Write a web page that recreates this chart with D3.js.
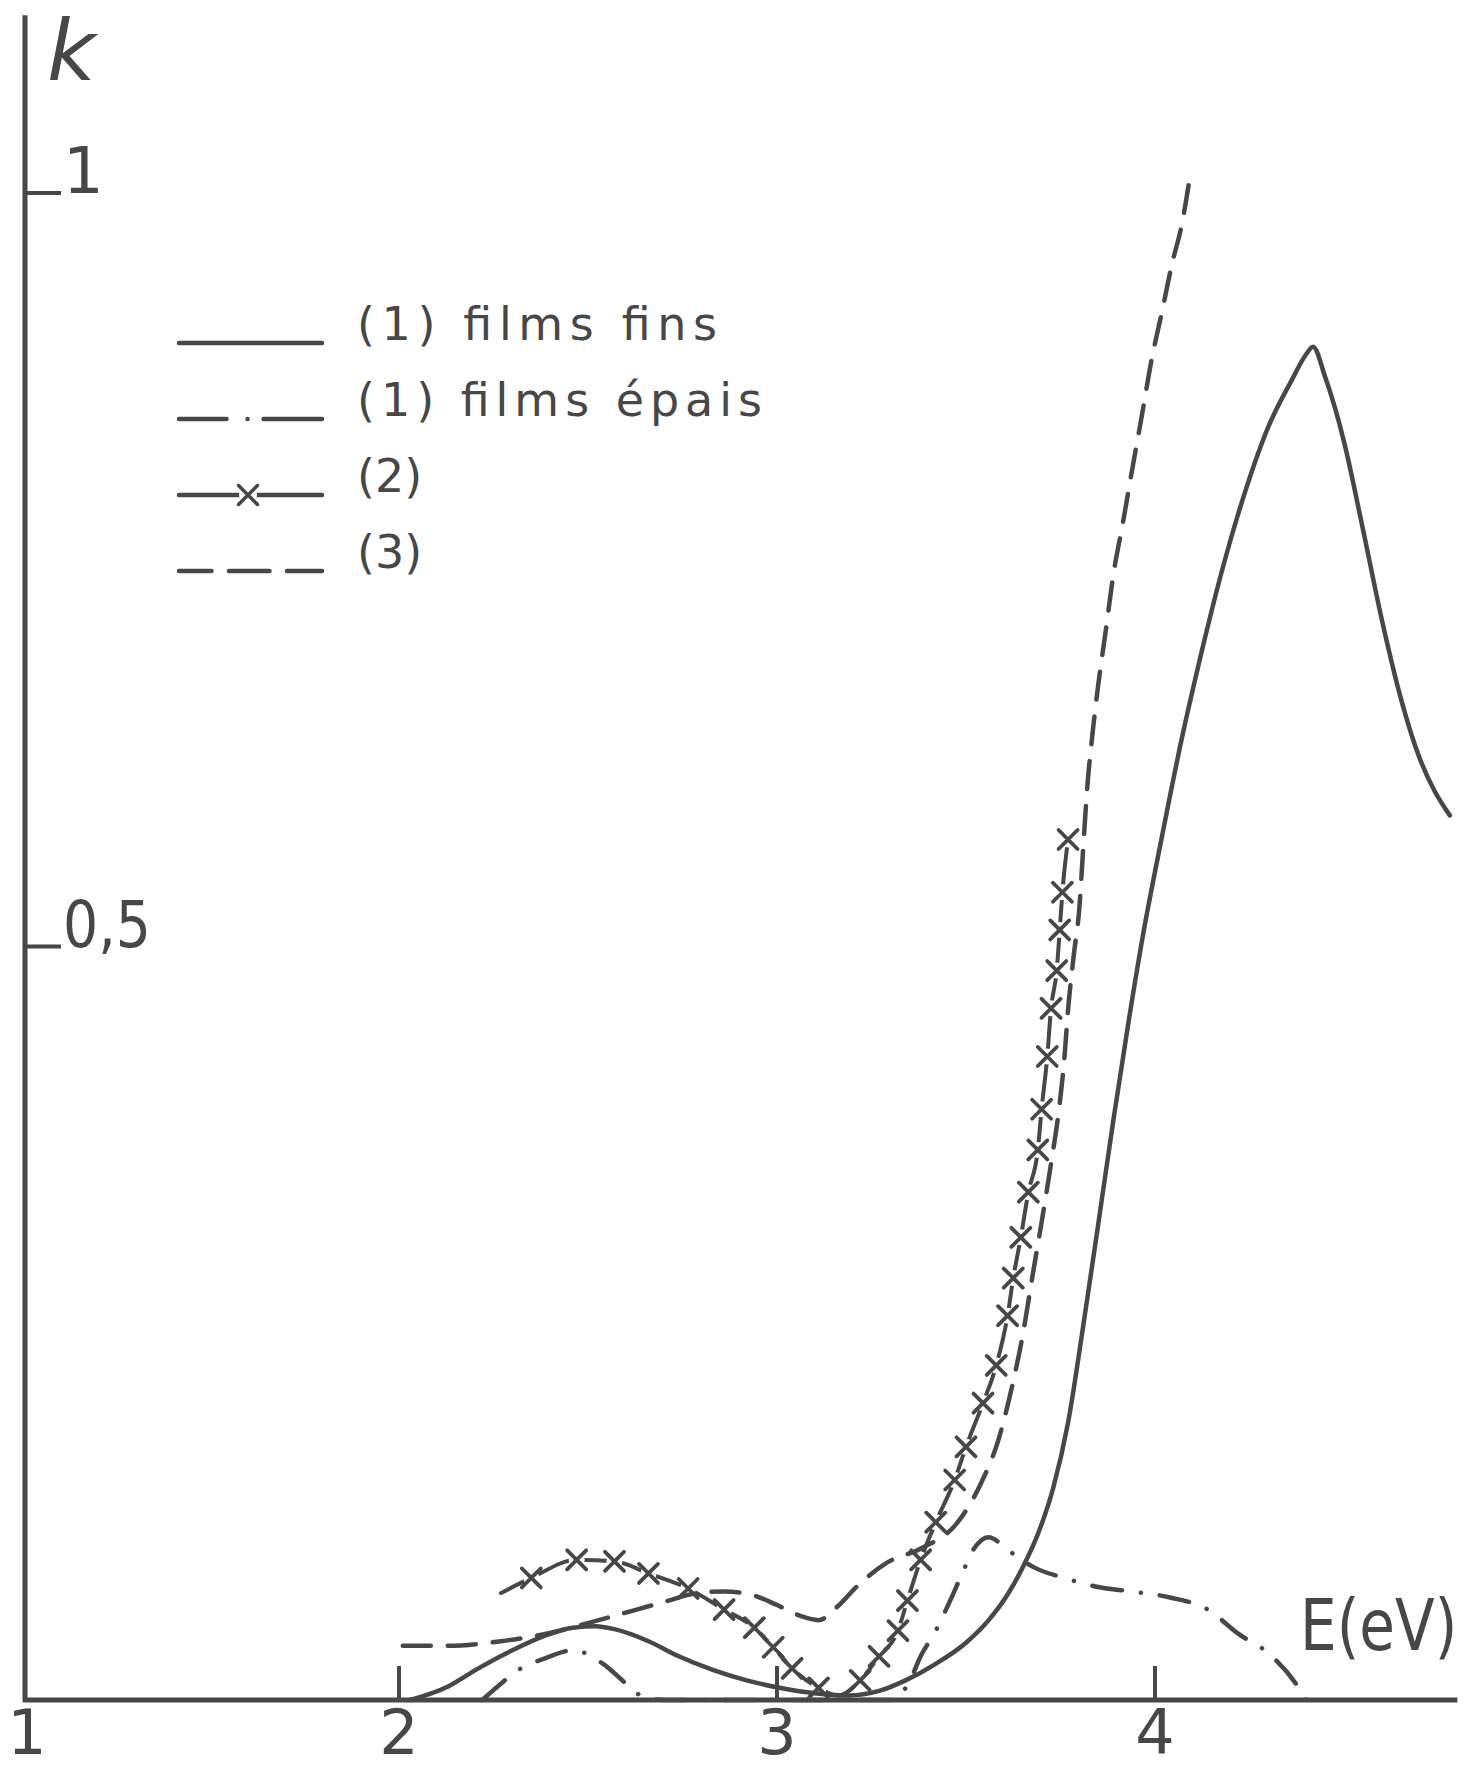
<!DOCTYPE html>
<html><head><meta charset="utf-8">
<script src="https://cdn.jsdelivr.net/npm/d3@7"></script>
<style>html,body{margin:0;padding:0;background:#fff;} svg{display:block;}</style>
</head><body>
<svg id="chart" width="1468" height="1770"></svg>
<script>
// ---- data (E in eV, k) ----
const xTicks = [1, 2, 3, 4];
const xTickLabels = ["1", "2", "3", "4"];
const yTicks = [0.5, 1];
const yTickLabels = ["0,5", "1"];
const xAxisLabel = "E(eV)";
const yAxisLabel = "k";
const legendLabels = ["(1) films fins", "(1) films épais", "(2)", "(3)"];

// (1) films fins — solid
const filmsFins = [
  [2.03,0],[2.13,0.009],[2.21,0.021],[2.30,0.033],[2.39,0.043],[2.46,0.048],[2.52,0.049],
  [2.57,0.047],[2.66,0.039],[2.74,0.029],[2.83,0.020],[2.92,0.013],[3.01,0.008],[3.10,0.0045],
  [3.19,0.003],[3.27,0.006],[3.34,0.013],[3.42,0.024],[3.50,0.038],[3.56,0.053],[3.61,0.070],
  [3.65,0.088],[3.69,0.110],[3.73,0.140],[3.77,0.184],[3.81,0.248],[3.85,0.316],[3.89,0.385],
  [3.93,0.450],[3.97,0.510],[4.02,0.575],[4.07,0.637],[4.12,0.692],[4.18,0.752],[4.24,0.803],
  [4.30,0.845],[4.36,0.875],[4.40,0.893],[4.418,0.898],[4.45,0.878],[4.50,0.835],[4.55,0.777],
  [4.60,0.717],[4.65,0.665],[4.70,0.625],[4.74,0.603],[4.78,0.587]
];
// (1) films épais — dash-dot
const filmsEpais = [
  [2.22,0],[2.275,0.012],[2.31,0.019],[2.39,0.028],[2.46,0.033],[2.54,0.024],[2.60,0.011],
  [2.64,0.003],[2.70,0],[3.30,0],[3.35,0.012],[3.38,0.029],[3.42,0.046],[3.46,0.067],
  [3.49,0.084],[3.52,0.100],[3.56,0.108],[3.60,0.102],[3.63,0.096],[3.68,0.088],[3.76,0.081],
  [3.85,0.075],[3.94,0.072],[4.04,0.068],[4.14,0.060],[4.22,0.044],[4.30,0.031],[4.375,0.010],
  [4.40,0]
];
// (2) — line with crosses; third value = 1 when a cross is drawn
const serie2 = [
  [2.27,0.071,0],[2.35,0.081,1],[2.47,0.093,1],[2.57,0.092,1],[2.66,0.084,1],[2.765,0.074,1],
  [2.86,0.060,1],[2.94,0.048,1],[2.99,0.035,1],[3.04,0.021,1],[3.11,0.008,1],[3.16,0.003,0],
  [3.22,0.013,1],[3.27,0.029,1],[3.32,0.046,1],[3.345,0.066,1],[3.38,0.093,1],[3.42,0.118,1],
  [3.47,0.146,1],[3.50,0.168,1],[3.545,0.197,1],[3.58,0.222,1],[3.61,0.255,1],[3.625,0.28,1],
  [3.645,0.307,1],[3.665,0.337,1],[3.69,0.365,1],[3.70,0.392,1],[3.715,0.427,1],[3.725,0.459,1],
  [3.74,0.484,1],[3.748,0.511,1],[3.755,0.536,1],[3.77,0.571,1]
];
// (3) — dashed
const serie3 = [
  [2.01,0.036],[2.13,0.036],[2.27,0.039],[2.39,0.044],[2.50,0.051],[2.60,0.058],[2.70,0.065],
  [2.79,0.071],[2.86,0.072],[2.93,0.070],[3.00,0.063],[3.06,0.056],[3.11,0.053],[3.16,0.062],
  [3.21,0.075],[3.29,0.091],[3.385,0.101],[3.475,0.117],[3.54,0.144],[3.585,0.172],[3.62,0.206],
  [3.65,0.242],[3.675,0.28],[3.70,0.317],[3.725,0.356],[3.745,0.39],[3.76,0.425],[3.77,0.458],
  [3.785,0.494],[3.80,0.526],[3.81,0.565],[3.82,0.603],[3.835,0.642],[3.85,0.674],[3.87,0.71],
  [3.89,0.747],[3.915,0.781],[3.94,0.817],[3.965,0.852],[3.99,0.888],[4.02,0.923],[4.045,0.953],
  [4.07,0.978],[4.095,1.015]
];

// ---- drawing ----
const W = 1468, H = 1770;
const ink = "#474747";
const font = "'DejaVu Sans', 'Liberation Sans', sans-serif";
const svg = d3.select("#chart");
svg.append("rect").attr("width", W).attr("height", H).attr("fill", "#fff");

const x = d3.scaleLinear().domain([1, 4.8]).range([21, 1457.4]);
const y = d3.scaleLinear().domain([0, 1]).range([1700, 193]);
const axisX = x(1) + 4;

const line = d3.line().x(d => x(d[0])).y(d => y(d[1])).curve(d3.curveMonotoneX);

// axes
svg.append("line").attr("x1", axisX).attr("x2", axisX).attr("y1", y(0) + 2).attr("y2", y(1.118))
  .attr("stroke", ink).attr("stroke-width", 5);
svg.append("line").attr("x1", axisX - 2).attr("x2", x(4.8)).attr("y1", y(0)).attr("y2", y(0))
  .attr("stroke", ink).attr("stroke-width", 5);

// x ticks
svg.append("g").selectAll("line").data(xTicks.filter(v => v > 1)).join("line")
  .attr("x1", d => x(d)).attr("x2", d => x(d)).attr("y1", y(0)).attr("y2", y(0) - 34)
  .attr("stroke", ink).attr("stroke-width", 4);
svg.append("g").selectAll("text").data(xTicks).join("text")
  .attr("x", d => x(d) + (d === 1 ? 6 : 0)).attr("y", y(0) + 54).attr("text-anchor", "middle")
  .attr("font-family", font).attr("font-size", 62).attr("fill", ink)
  .text((d, i) => xTickLabels[i]);

// y ticks
svg.append("g").selectAll("line").data(yTicks).join("line")
  .attr("x1", axisX).attr("x2", axisX + 36).attr("y1", d => y(d)).attr("y2", d => y(d))
  .attr("stroke", ink).attr("stroke-width", 4);
svg.append("g").selectAll("text").data(yTicks).join("text")
  .attr("x", axisX + 38).attr("y", d => y(d)).attr("font-family", font).attr("font-size", 64)
  .attr("fill", ink).each(function(d, i) {
    const t = d3.select(this).text(yTickLabels[i]);
    if (yTickLabels[i].length > 1) t.attr("textLength", 88).attr("lengthAdjust", "spacingAndGlyphs");
  });

// axis labels
svg.append("text").attr("x", axisX + 22).attr("y", 80).attr("font-family", font)
  .attr("font-style", "italic").attr("font-size", 84).attr("fill", ink).text(yAxisLabel);
svg.append("text").attr("transform", "translate(1300,1650) scale(1,1.24)")
  .attr("font-family", font).attr("font-size", 58).attr("fill", ink).text(xAxisLabel);

// series (2): line, white gaps, crosses
const crossPath = "M-9.5,-9.5L9.5,9.5M-9.5,9.5L9.5,-9.5";
svg.append("path").attr("d", line(serie2)).attr("fill", "none").attr("stroke", ink)
  .attr("stroke-width", 4).attr("stroke-linecap", "round");
const marks = serie2.filter(d => d[2] === 1);
svg.append("g").selectAll("circle").data(marks).join("circle")
  .attr("cx", d => x(d[0])).attr("cy", d => y(d[1])).attr("r", 8).attr("fill", "#fff");
svg.append("g").selectAll("path").data(marks).join("path")
  .attr("transform", d => `translate(${x(d[0])},${y(d[1])})`).attr("d", crossPath)
  .attr("stroke", ink).attr("stroke-width", 3.8).attr("stroke-linecap", "round").attr("fill", "none");

// series (3): dashed
svg.append("path").attr("d", line(serie3)).attr("fill", "none").attr("stroke", ink)
  .attr("stroke-width", 4.5).attr("stroke-linecap", "round").attr("stroke-dasharray", "28 17");

// series (1) films épais: dash-dot
svg.append("path").attr("d", line(filmsEpais)).attr("fill", "none").attr("stroke", ink)
  .attr("stroke-width", 4.5).attr("stroke-linecap", "round").attr("stroke-dasharray", "30 19 0.1 19");

// series (1) films fins: solid
svg.append("path").attr("d", line(filmsFins)).attr("fill", "none").attr("stroke", ink)
  .attr("stroke-width", 4.5).attr("stroke-linecap", "round").attr("stroke-linejoin", "round");

// legend
const legendStyles = [
  { dash: null, cross: false, len: 360 },
  { dash: "47.5 21 0.1 16 60", cross: false, len: 405 },
  { dash: null, cross: true, len: null },
  { dash: "32.5 17.5 40.5 17.5 40", cross: false, len: null }
];
const lg = svg.append("g");
legendLabels.forEach((lab, i) => {
  const by = 340 + i * 76;
  const st = legendStyles[i];
  const ly = by + 3;
  const l = lg.append("line").attr("x1", 179).attr("x2", 322).attr("y1", ly).attr("y2", ly)
    .attr("stroke", ink).attr("stroke-width", 4.5).attr("stroke-linecap", "round");
  if (st.dash) l.attr("stroke-dasharray", st.dash);
  if (st.cross) {
    lg.append("circle").attr("cx", 248).attr("cy", ly).attr("r", 9).attr("fill", "#fff");
    lg.append("path").attr("transform", `translate(248,${ly})`).attr("d", crossPath)
      .attr("stroke", ink).attr("stroke-width", 3.5).attr("stroke-linecap", "round");
  }
  const t = lg.append("text").attr("x", 357).attr("y", by).attr("font-family", font)
    .attr("font-size", 46).attr("fill", ink).text(lab);
  if (st.len) t.attr("textLength", st.len).attr("lengthAdjust", "spacing");
});
</script>
</body></html>
